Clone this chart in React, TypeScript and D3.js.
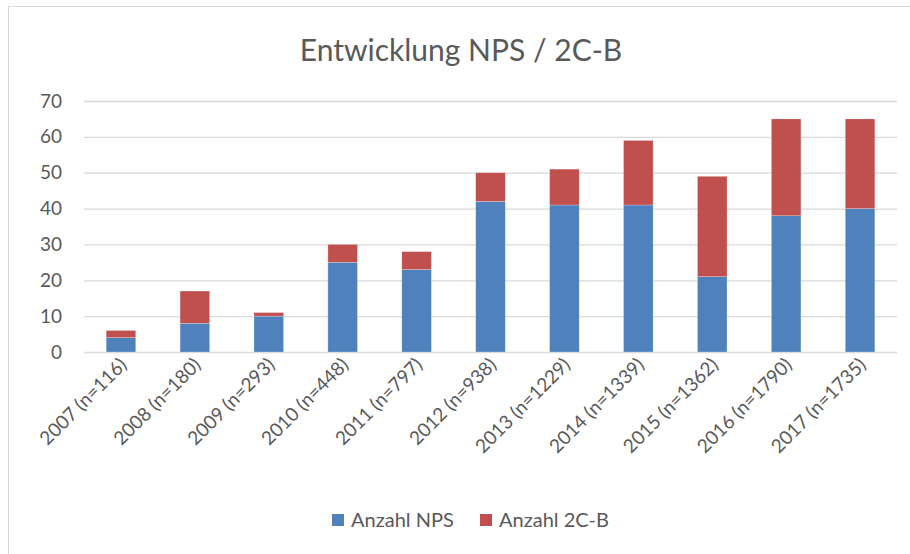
import React from 'react';
import * as d3 from 'd3';

const categories = [
  '2007 (n=116)',
  '2008 (n=180)',
  '2009 (n=293)',
  '2010 (n=448)',
  '2011 (n=797)',
  '2012 (n=938)',
  '2013 (n=1229)',
  '2014 (n=1339)',
  '2015 (n=1362)',
  '2016 (n=1790)',
  '2017 (n=1735)',
];
const anzahlNPS = [4, 8, 10, 25, 23, 42, 41, 41, 21, 38, 40];
const anzahl2CB = [2, 9, 1, 5, 5, 8, 10, 18, 28, 27, 25];
const yTicks = [0, 10, 20, 30, 40, 50, 60, 70];

const seriesNames = ['Anzahl NPS', 'Anzahl 2C-B'];
const seriesColors = ['#4f81bd', '#c0504d'];

const width = 910;
const height = 554;
const margin = { top: 101, right: 13, bottom: 202, left: 84 };
const font = 'Lato, "Open Sans", sans-serif';
const textColor = '#595959';

const App: React.FC = () => {
  const svgRef = React.useRef<SVGSVGElement>(null);

  React.useEffect(() => {
    const svgEl = d3.select(svgRef.current);
    svgEl.selectAll('*').remove();

    const innerW = width - margin.left - margin.right;
    const innerH = height - margin.top - margin.bottom;

    // chart area frame
    svgEl
      .append('rect')
      .attr('x', 8.5)
      .attr('y', 6.5)
      .attr('width', width)
      .attr('height', height)
      .attr('fill', '#fff')
      .attr('stroke', '#d9d9d9');

    svgEl
      .append('text')
      .attr('x', 461)
      .attr('y', 61)
      .attr('text-anchor', 'middle')
      .attr('font-family', font)
      .attr('font-size', 30)
      .attr('fill', textColor)
      .text('Entwicklung NPS / 2C-B');

    const svg = svgEl
      .append('g')
      .attr('transform', `translate(${margin.left},${margin.top})`);

    const x = d3.scaleBand().domain(categories).range([0, innerW]).paddingInner(0.6).paddingOuter(0.3);
    const y = d3.scaleLinear().domain([0, 70]).range([innerH, 0]);

    // grid + y labels
    const yAxis = d3.axisLeft(y).tickValues(yTicks).tickSize(-innerW).tickPadding(22);
    const yG = svg.append('g').call(yAxis);
    yG.select('.domain').remove();
    yG.selectAll('line').attr('stroke', '#d9d9d9').attr('stroke-width', 1.3);
    yG.selectAll('text')
      .attr('font-family', font)
      .attr('font-size', 19)
      .attr('fill', textColor);

    // stacked bars
    const rows = categories.map((c, i) => ({ cat: c, nps: anzahlNPS[i], cb: anzahl2CB[i] }));
    const stack = d3.stack<any>().keys(['nps', 'cb'])(rows);
    svg
      .selectAll('.layer')
      .data(stack)
      .enter()
      .append('g')
      .attr('fill', (_d, i) => seriesColors[i])
      .selectAll('rect')
      .data((d) => d)
      .enter()
      .append('rect')
      .attr('x', (d: any) => x(d.data.cat)!)
      .attr('width', x.bandwidth())
      .attr('y', (d) => y(d[1]))
      .attr('height', (d) => y(d[0]) - y(d[1]))
      .attr('stroke', '#ffffff')
      .attr('stroke-opacity', 0.4)
      .attr('stroke-width', 0.6);

    // x labels
    svg
      .append('g')
      .selectAll('text')
      .data(categories)
      .enter()
      .append('text')
      .attr(
        'transform',
        (d) => `translate(${x(d)! + x.bandwidth() / 2 + 7},${innerH + 14}) rotate(-45)`
      )
      .attr('text-anchor', 'end')
      .attr('font-family', font)
      .attr('font-size', 19)
      .attr('fill', textColor)
      .text((d) => d);

    // legend
    const legend = svgEl.append('g').attr('transform', 'translate(332,514)');
    const offsets = [0, 148];
    seriesNames.forEach((name, i) => {
      const g = legend.append('g').attr('transform', `translate(${offsets[i]},0)`);
      g.append('rect').attr('width', 12).attr('height', 12).attr('fill', seriesColors[i]);
      g.append('text')
        .attr('x', 19)
        .attr('y', 13)
        .attr('font-family', font)
        .attr('font-size', 20)
        .attr('fill', textColor)
        .text(name);
    });
  }, []);

  return (
    <svg
      ref={svgRef}
      width={width}
      height={height}
      style={{ position: 'absolute', left: 0, top: 0 }}
    />
  );
};

export default App;
